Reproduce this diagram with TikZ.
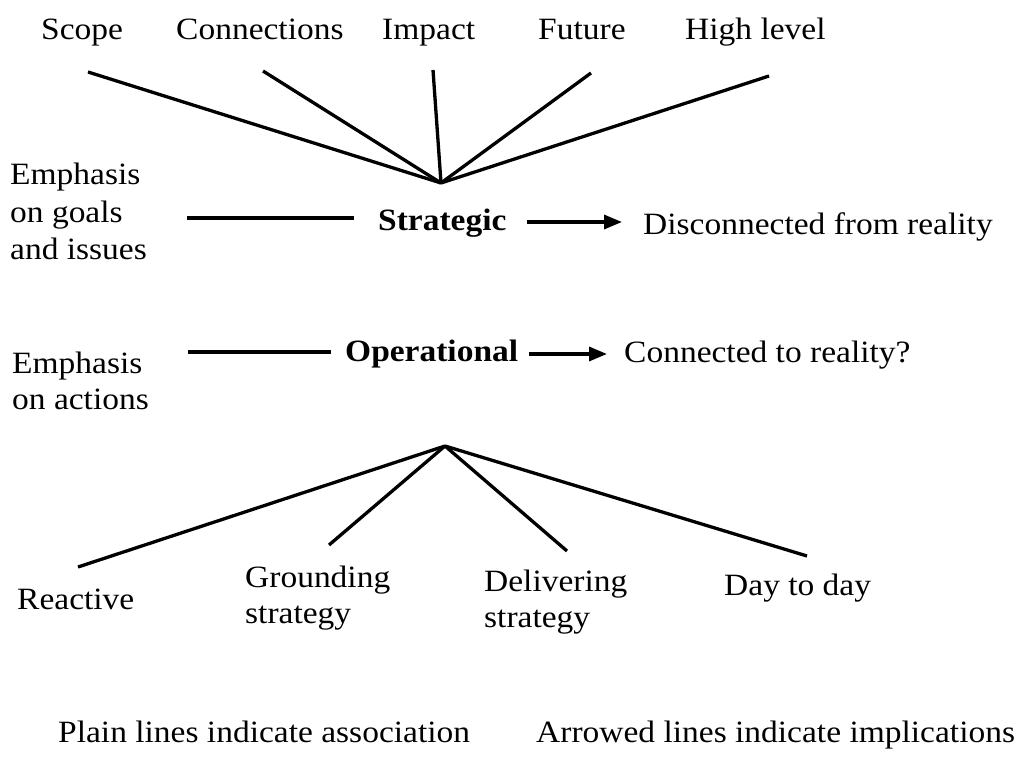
\documentclass[tikz,border=0pt]{standalone}
\usepackage{fontspec}
\setmainfont{Liberation Serif}[FakeStretch=1.08]
\usetikzlibrary{arrows.meta}
\begin{document}
\begin{tikzpicture}[x=1pt,y=-1pt,
  lbl/.style={inner sep=0pt, font=\fontsize{31}{36}\selectfont, align=left},
  hub/.style={inner sep=0pt, font=\fontsize{31}{36}\selectfont\bfseries},
  assoc/.style={line width=3.3pt},
  impl/.style={line width=3.3pt, -{Triangle[length=18pt,width=14pt]}}]
\useasboundingbox (0,0) rectangle (1016,767);

% strategic level and its attributes
\node[lbl, anchor=base west] (scope)  at (41,40)  {Scope};
\node[lbl, anchor=base west] (conn)   at (176,40) {Connections};
\node[lbl, anchor=base west] (impact) at (382,40) {Impact};
\node[lbl, anchor=base west] (future) at (538,40) {Future};
\node[lbl, anchor=base west] (high)   at (685,40) {High level};

\node[lbl, anchor=north west, font=\fontsize{31}{37.5}\selectfont] (emphS) at (10,163) {Emphasis\\on goals\\and issues};
\node[hub, anchor=base west] (strat) at (378,231) {Strategic};
\node[lbl, anchor=base west] (disc)  at (643,234) {Disconnected from reality};

\coordinate (sv) at (441,183);
\coordinate (scope-e)  at (88,72);
\coordinate (conn-e)   at (263,71);
\coordinate (impact-e) at (433,70);
\coordinate (future-e) at (591,73);
\coordinate (high-e)   at (769,76);
\foreach \t in {scope,conn,impact,future,high}
  \draw[assoc] (\t-e) -- (sv);

\coordinate (emphS-e) at (187,218);
\coordinate (strat-w) at (354,218);
\draw[assoc] (emphS-e) -- (strat-w);
\coordinate (strat-e) at (527,222);
\coordinate (disc-w)  at (622,222);
\draw[impl] (strat-e) -- (disc-w);

% operational level and its attributes
\node[lbl, anchor=north west] (emphO) at (12,352) {Emphasis\\on actions};
\node[hub, anchor=base west] (oper) at (345,361) {Operational};
\node[lbl, anchor=base west] (conn2) at (624,362) {Connected to reality?};

\coordinate (emphO-e) at (188,352);
\coordinate (oper-w)  at (331,352);
\draw[assoc] (emphO-e) -- (oper-w);
\coordinate (oper-e)  at (529,354);
\coordinate (conn2-w) at (607,354);
\draw[impl] (oper-e) -- (conn2-w);

\coordinate (ov) at (445,446);
\node[lbl, anchor=base west]  (react) at (17,609)  {Reactive};
\node[lbl, anchor=north west] (grnd)  at (245,566) {Grounding\\strategy};
\node[lbl, anchor=north west] (deliv) at (484,570) {Delivering\\strategy};
\node[lbl, anchor=base west]  (day)   at (724,595) {Day to day};

\coordinate (react-e) at (78,567);
\coordinate (grnd-e)  at (329,545);
\coordinate (deliv-e) at (567,551);
\coordinate (day-e)   at (807,556);
\foreach \t in {react,grnd,deliv,day}
  \draw[assoc] (ov) -- (\t-e);

% legend
\node[lbl, anchor=base west] (leg1) at (58,742)  {Plain lines indicate association};
\node[lbl, anchor=base west] (leg2) at (536,742) {Arrowed lines indicate implications};
\end{tikzpicture}
\end{document}
